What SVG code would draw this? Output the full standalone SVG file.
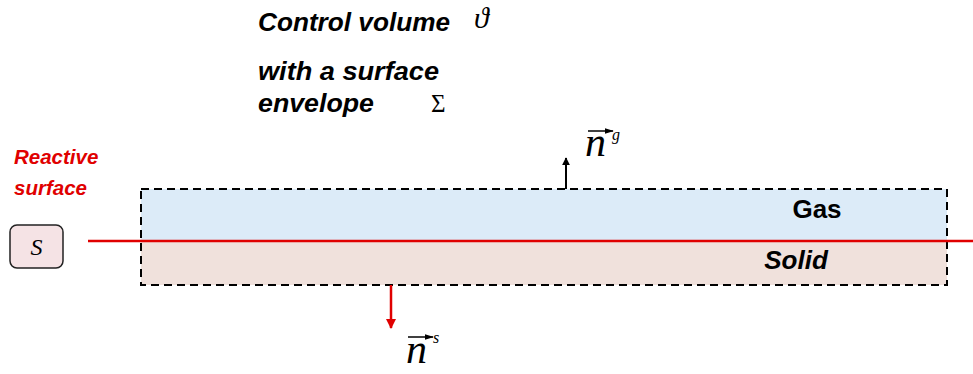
<svg xmlns="http://www.w3.org/2000/svg" width="973" height="374" viewBox="0 0 973 374">
<style>
.lbl{font-family:"Liberation Sans",Arial,sans-serif;font-weight:bold;font-style:italic;font-size:25px;fill:#000}
.red{fill:#e00000;font-size:20.5px}
.math{font-family:"Liberation Serif","Times New Roman",serif;font-style:italic;fill:#000}
.dash{fill:none;stroke:#000;stroke-width:2;stroke-dasharray:8,5}
</style>
<defs>
<marker id="ab" viewBox="0 0 10 10" refX="9" refY="5" markerWidth="4" markerHeight="4" orient="auto"><path d="M0,0L10,5L0,10z" fill="#000"/></marker>
<marker id="ar" viewBox="0 0 10 10" refX="9" refY="5" markerWidth="4" markerHeight="4" orient="auto"><path d="M0,0L10,5L0,10z" fill="#e00000"/></marker>
<marker id="av" viewBox="0 0 10 10" refX="9" refY="5" markerWidth="6" markerHeight="6" orient="auto"><path d="M0,2L10,5L0,8z" fill="#000"/></marker>
</defs>
<rect width="973" height="374" fill="#fff"/>
<g id="control-volume">
<rect x="141" y="189" width="806" height="52" fill="#dcebf8"/>
<rect x="141" y="241" width="806" height="44" fill="#f0e1dc"/>
<rect x="141" y="189" width="806" height="96" class="dash"/>
<text x="817" y="218" class="lbl" style="font-style:normal;font-size:26px" text-anchor="middle">Gas</text>
<text x="796" y="269" class="lbl" style="font-size:26px" text-anchor="middle">Solid</text>
</g>
<g id="reactive-surface">
<text x="14" y="164" class="lbl red">Reactive</text>
<text x="14" y="195" class="lbl red">surface</text>
<rect x="10" y="225" width="53" height="43" rx="7" fill="#f5e3e5" stroke="#222" stroke-width="1.5"/>
<text x="36.5" y="255" class="math" font-size="24" text-anchor="middle">S</text>
</g>
<g id="connectors">
<line x1="88" y1="241" x2="973" y2="241" stroke="#e00000" stroke-width="2.5"/>
<line x1="566" y1="189" x2="566" y2="158" stroke="#000" stroke-width="2" marker-end="url(#ab)"/>
<line x1="391" y1="285" x2="391" y2="328" stroke="#e00000" stroke-width="2.5" marker-end="url(#ar)"/>
</g>
<g id="title">
<text x="258" y="31" class="lbl" textLength="192" lengthAdjust="spacingAndGlyphs">Control volume</text>
<text x="474" y="28" class="math" font-size="30">ϑ</text>
<text x="258" y="80" class="lbl" textLength="181" lengthAdjust="spacingAndGlyphs">with a surface</text>
<text x="258" y="112" class="lbl" textLength="116" lengthAdjust="spacingAndGlyphs">envelope</text>
<text x="431" y="112" font-family="'Liberation Serif',serif" font-size="25" fill="#000">Σ</text>
</g>
<g id="normal-gas">
<text x="585" y="156" class="math" font-size="42">n</text>
<line x1="588" y1="131" x2="613" y2="131" stroke="#000" stroke-width="1.5" marker-end="url(#av)"/>
<text x="612" y="140" class="math" font-size="16">g</text>
</g>
<g id="normal-solid">
<text x="406" y="363" class="math" font-size="42">n</text>
<line x1="408" y1="337" x2="433" y2="337" stroke="#000" stroke-width="1.5" marker-end="url(#av)"/>
<text x="433" y="343" class="math" font-size="16">s</text>
</g>
</svg>
